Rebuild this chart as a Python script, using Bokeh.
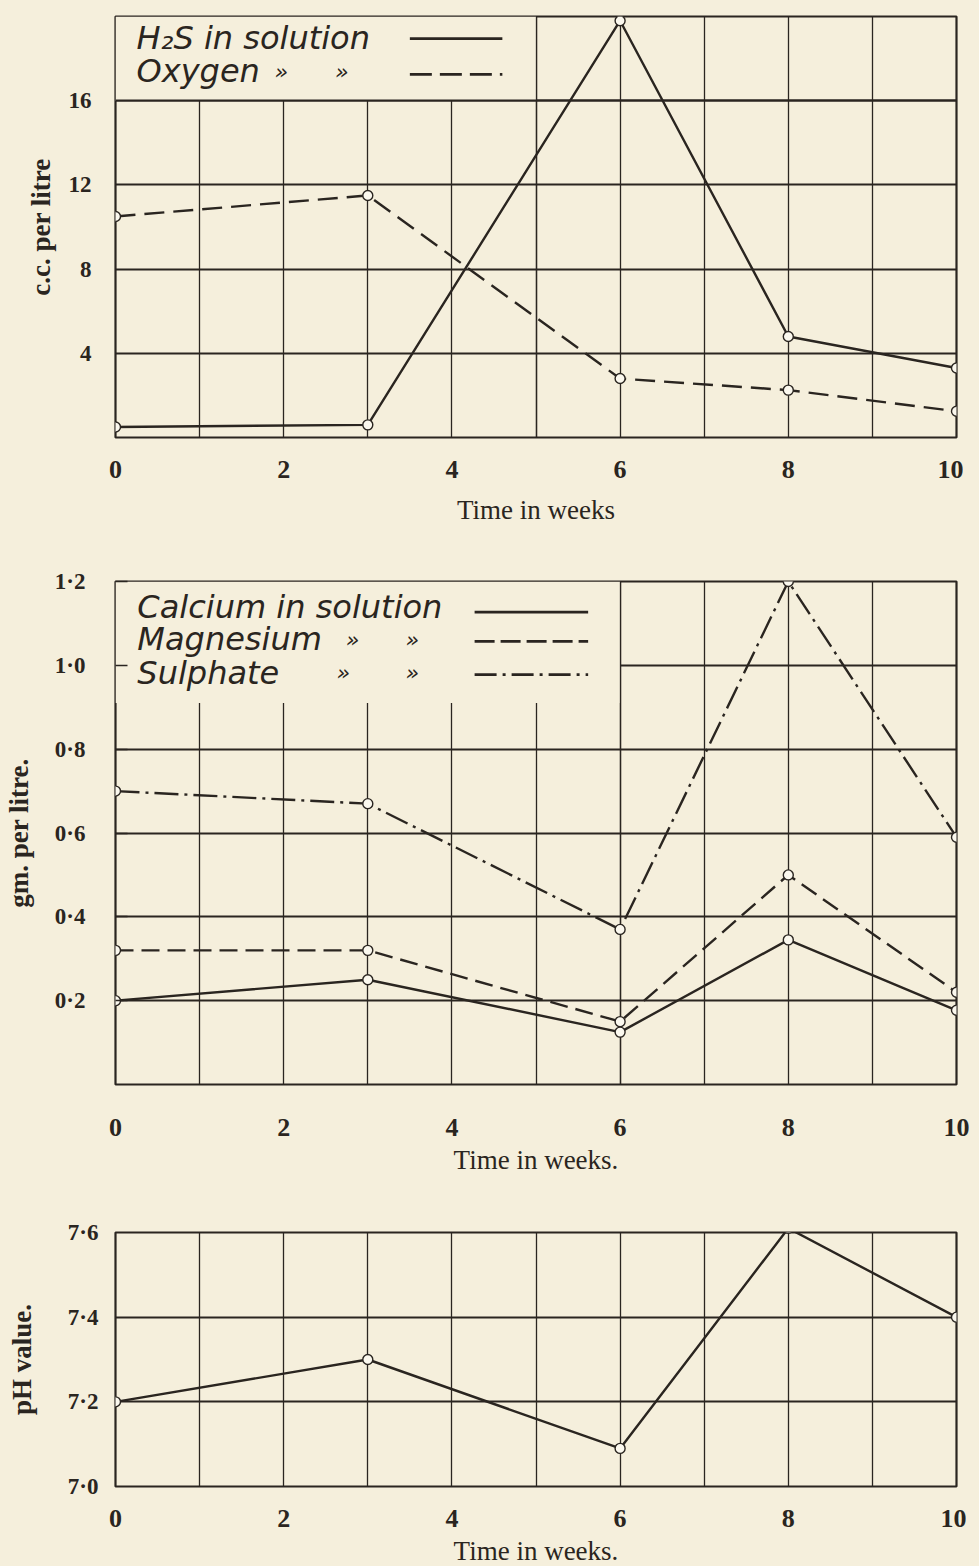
from bokeh.plotting import figure
from bokeh.layouts import column
from bokeh.models import BoxAnnotation, Grid, FixedTicker, Label, Arrow, Range1d
from bokeh.embed import file_html
from bokeh.resources import INLINE

# ---------------- data ----------------
weeks = [0, 3, 6, 8, 10]

h2s = [0.5, 0.6, 19.8, 4.8, 3.3]
oxygen = [10.5, 11.5, 2.8, 2.25, 1.25]

calcium = [0.20, 0.25, 0.125, 0.345, 0.177]
magnesium = [0.32, 0.32, 0.15, 0.50, 0.22]
sulphate = [0.70, 0.67, 0.37, 1.20, 0.59]

ph = [7.20, 7.30, 7.09, 7.61, 7.40]

x_ticks = [0, 2, 4, 6, 8, 10]
x_grid = [1, 2, 3, 4, 5, 6, 7, 8, 9]

y1_ticks = [4, 8, 12, 16]
y2_ticks = [0.2, 0.4, 0.6, 0.8, 1.0, 1.2]
y2_labels = ["0·2", "0·4", "0·6", "0·8", "1·0", "1·2"]
y3_ticks = [7.0, 7.2, 7.4, 7.6]
y3_labels = ["7·0", "7·2", "7·4", "7·6"]

legend1 = ["H₂S in solution", "Oxygen"]
legend2 = ["Calcium in solution", "Magnesium", "Sulphate"]
ditto = "»"

# ---------------- style ----------------
BG = "#f5efdc"
INK = "#2a2520"
MARK_FILL = "#fbf8ee"
SERIF = "Liberation Serif"
HAND = "DejaVu Sans"


def base_fig(fw, fh, yr, left, right, top, bottom):
    p = figure(frame_width=fw, frame_height=fh,
               x_range=Range1d(0, 10), y_range=Range1d(*yr),
               output_backend="svg", toolbar_location=None,
               min_border_left=left, min_border_right=right,
               min_border_top=top, min_border_bottom=bottom,
               background_fill_color=BG, border_fill_color=BG,
               styles={"background-color": BG})
    p.outline_line_color = INK
    p.outline_line_width = 2.2
    for ax in (p.xaxis[0], p.yaxis[0]):
        ax.axis_line_color = None
        ax.major_tick_out = 0
        ax.major_tick_in = 0
        ax.minor_tick_line_color = None
        ax.major_label_text_font = SERIF
        ax.major_label_text_font_style = "bold"
        ax.major_label_text_color = INK
        ax.axis_label_text_font = SERIF
        ax.axis_label_text_color = INK
    p.xaxis.ticker = FixedTicker(ticks=x_ticks)
    p.xaxis.major_label_text_font_size = "26px"
    p.yaxis.major_label_text_font_size = "23px"
    p.xaxis.axis_label_text_font_style = "normal"
    p.xaxis.axis_label_text_font_size = "27px"
    p.yaxis.axis_label_text_font_style = "bold"
    p.yaxis.axis_label_text_font_size = "27px"
    p.xgrid.ticker = FixedTicker(ticks=x_grid)
    p.xgrid.grid_line_color = INK
    p.xgrid.grid_line_width = 1.3
    p.ygrid.grid_line_color = INK
    p.ygrid.grid_line_width = 2.2
    return p


def series(p, ys, dash):
    p.line(weeks, ys, line_color=INK, line_width=2.4, line_dash=dash)
    p.scatter(weeks, ys, marker="circle", size=10, fill_color=MARK_FILL,
              line_color=INK, line_width=1.4)


def legend_row(p, text, x, y, dittos, lx0, lx1, ly, dash):
    p.add_layout(Label(x=x, y=y, text=text, text_font=HAND, text_font_style="italic",
                       text_font_size="32px", text_color=INK, text_baseline="middle",
                       text_align="left"))
    for dx in dittos:
        p.add_layout(Label(x=dx, y=y, text=ditto, text_font=HAND, text_font_style="italic",
                           text_font_size="22px", text_color=INK, text_baseline="middle",
                           text_align="center"))
    p.add_layout(Arrow(end=None, x_start=lx0, y_start=ly, x_end=lx1, y_end=ly,
                       line_color=INK, line_width=2.8, line_dash=dash))


# ---------------- panel 1 ----------------
p1 = base_fig(841, 421, (0, 20), 106, 16, 16, 122)
p1.yaxis.ticker = FixedTicker(ticks=y1_ticks)
p1.ygrid.ticker = FixedTicker(ticks=y1_ticks)
p1.xaxis.axis_label = "Time in weeks"
p1.yaxis.axis_label = "c.c. per litre"
p1.xaxis.major_label_standoff = 23
p1.xaxis.axis_label_standoff = 14
p1.yaxis.major_label_standoff = 24
p1.yaxis.axis_label_standoff = 10

p1.add_layout(BoxAnnotation(left=0, right=5, bottom=16, top=20, fill_color=BG,
                            fill_alpha=1, line_color=None, level="underlay"))
p1.add_layout(Grid(dimension=0, ticker=FixedTicker(ticks=[5]), grid_line_color=INK,
                   grid_line_width=1.3, level="underlay"))
p1.add_layout(Grid(dimension=1, ticker=FixedTicker(ticks=[16]), grid_line_color=INK,
                   grid_line_width=2.2, level="underlay"))

series(p1, h2s, "solid")
series(p1, oxygen, "20 9")

legend_row(p1, legend1[0], 0.25, 19.0, [], 3.5, 4.6, 18.95, "solid")
legend_row(p1, legend1[1], 0.25, 17.4, [1.97, 2.69], 3.5, 4.6, 17.25, "22 8")

# ---------------- panel 2 ----------------
p2 = base_fig(841, 503, (0, 1.2), 107, 15, 22, 105)
p2.yaxis.ticker = FixedTicker(ticks=y2_ticks)
p2.yaxis.major_label_overrides = dict(zip(y2_ticks, y2_labels))
p2.ygrid.ticker = FixedTicker(ticks=y2_ticks)
p2.yaxis.major_tick_in = 12
p2.yaxis.major_tick_line_color = INK
p2.yaxis.major_tick_line_width = 1.5
p2.xaxis.axis_label = "Time in weeks."
p2.yaxis.axis_label = "gm. per litre."
p2.xaxis.major_label_standoff = 34
p2.xaxis.axis_label_standoff = 6
p2.yaxis.major_label_standoff = 30
p2.yaxis.axis_label_standoff = 18

p2.add_layout(BoxAnnotation(left=0, right=6, bottom=0.91, top=1.2, fill_color=BG,
                            fill_alpha=1, line_color=None, level="underlay"))
p2.add_layout(Grid(dimension=0, ticker=FixedTicker(ticks=[6]), grid_line_color=INK,
                   grid_line_width=1.3, level="underlay"))

series(p2, calcium, "solid")
series(p2, magnesium, "18 8")
series(p2, sulphate, "24 6 3 6")

legend_row(p2, legend2[0], 0.26, 1.14, [], 4.27, 5.62, 1.127, "solid")
legend_row(p2, legend2[1], 0.26, 1.062, [2.82, 3.53], 4.27, 5.62, 1.057, "20 6")
legend_row(p2, legend2[2], 0.26, 0.982, [2.71, 3.53], 4.27, 5.62, 0.978, "22 6 3 6")

# ---------------- panel 3 ----------------
p3 = base_fig(841, 254, (7.0, 7.6), 109, 13, 43, 64)
p3.yaxis.ticker = FixedTicker(ticks=y3_ticks)
p3.yaxis.major_label_overrides = dict(zip(y3_ticks, y3_labels))
p3.ygrid.ticker = FixedTicker(ticks=y3_ticks)
p3.xaxis.axis_label = "Time in weeks."
p3.yaxis.axis_label = "pH value."
p3.xaxis.major_label_standoff = 23
p3.xaxis.axis_label_standoff = 6
p3.yaxis.major_label_standoff = 17
p3.yaxis.axis_label_standoff = 28

series(p3, ph, "solid")

layout = column(p1, p2, p3, spacing=0, styles={"background-color": BG})
html = file_html(layout, INLINE)
html = html.replace("<body>", '<body style="background-color: %s;">' % BG, 1)
html = html.replace("<head>", '<head><style>html, body { background-color: %s; }</style>' % BG, 1)
open("out.html", "w").write(html)
